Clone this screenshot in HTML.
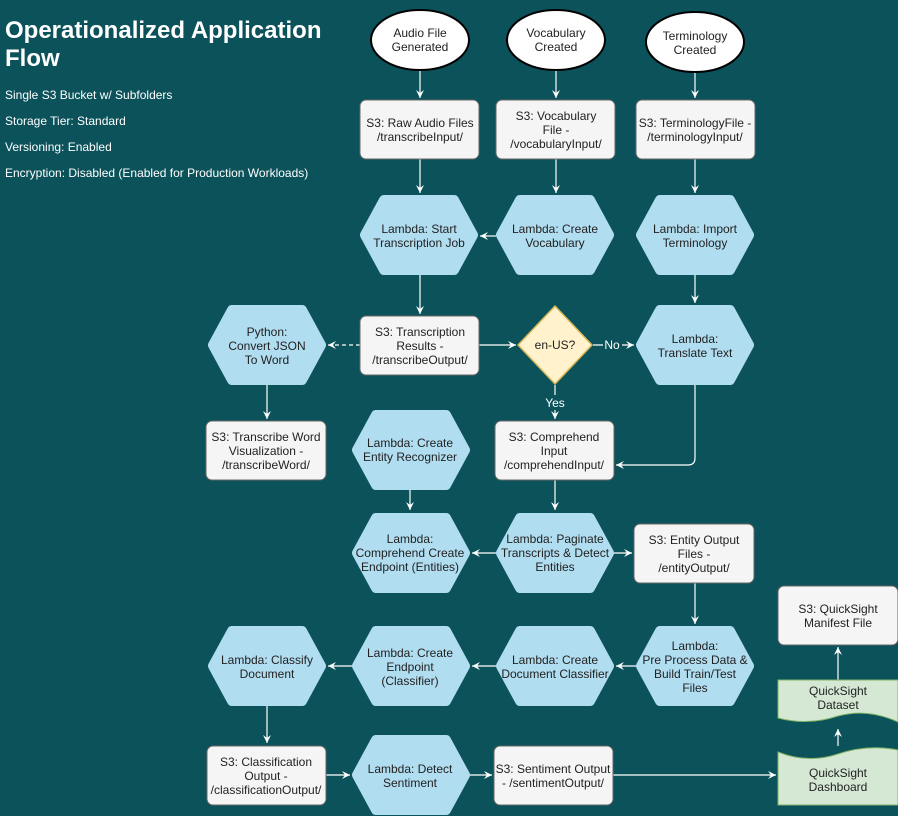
<!DOCTYPE html>
<html><head><meta charset="utf-8"><style>
html,body{margin:0;padding:0;background:#0b525a;}
svg{display:block;font-family:"Liberation Sans",Arial,sans-serif;}
.hx{fill:#b1ddf0;stroke:#b1ddf0;stroke-width:10;stroke-linejoin:round;}
.bx{fill:#f5f5f5;stroke:#666;stroke-width:1;}
.t{font-size:12px;fill:#222;text-anchor:middle;}
.w{fill:#fff;font-size:12px;}
.ln{stroke:#fff;stroke-width:1.2;fill:none;}
</style></head><body>
<svg width="898" height="816" viewBox="0 0 898 816" xmlns="http://www.w3.org/2000/svg">
<defs><marker id="a" markerWidth="10" markerHeight="10" refX="8" refY="5" orient="auto" markerUnits="userSpaceOnUse"><path d="M0,1 L8,5 L0,9 L3,5 Z" fill="#fff"/></marker></defs>
<text x="5" y="38" fill="#fff" font-size="24" font-weight="bold">Operationalized Application</text>
<text x="5" y="66" fill="#fff" font-size="24" font-weight="bold">Flow</text>
<text class="w" x="5" y="99">Single S3 Bucket w/ Subfolders</text>
<text class="w" x="5" y="125">Storage Tier: Standard</text>
<text class="w" x="5" y="151">Versioning: Enabled</text>
<text class="w" x="5" y="177">Encryption: Disabled (Enabled for Production Workloads)</text>

<!-- connectors -->
<g class="ln">
<path d="M420,70 V98" marker-end="url(#a)"/>
<path d="M556,70 V98" marker-end="url(#a)"/>
<path d="M695,72 V98" marker-end="url(#a)"/>
<path d="M420,159 V193" marker-end="url(#a)"/>
<path d="M556,159 V193" marker-end="url(#a)"/>
<path d="M695,159 V193" marker-end="url(#a)"/>
<path d="M496,236 H480" marker-end="url(#a)"/>
<path d="M420,275 V314" marker-end="url(#a)"/>
<path d="M695,275 V303" marker-end="url(#a)"/>
<path d="M360,345 H328" stroke-dasharray="4,3" marker-end="url(#a)"/>
<path d="M479,345 H516" marker-end="url(#a)"/>
<path d="M593,345 H603 M622,345 H634" marker-end="url(#a)"/>
<path d="M555,385 V395 M555,410 V419" marker-end="url(#a)"/>
<path d="M695,385 V458 Q695,465 688,465 H616" marker-end="url(#a)"/>
<path d="M267,385 V419" marker-end="url(#a)"/>
<path d="M410,490 V510" marker-end="url(#a)"/>
<path d="M555,480 V510" marker-end="url(#a)"/>
<path d="M496,553 H472" marker-end="url(#a)"/>
<path d="M614,553 H632" marker-end="url(#a)"/>
<path d="M695,583 V624" marker-end="url(#a)"/>
<path d="M636,666 H616" marker-end="url(#a)"/>
<path d="M496,666 H472" marker-end="url(#a)"/>
<path d="M352,666 H328" marker-end="url(#a)"/>
<path d="M267,706 V743" marker-end="url(#a)"/>
<path d="M326,775 H350" marker-end="url(#a)"/>
<path d="M470,775 H492" marker-end="url(#a)"/>
<path d="M613,775 H776" marker-end="url(#a)"/>
<path d="M838,746 V729" marker-end="url(#a)"/>
<path d="M838,680 V647" marker-end="url(#a)"/>
</g>
<text class="w" x="612" y="349" text-anchor="middle" font-size="11">No</text>
<text class="w" x="555" y="407" text-anchor="middle" font-size="11">Yes</text>

<!-- ellipses -->
<ellipse cx="420" cy="40" rx="49" ry="30" fill="#fff" stroke="#000" stroke-width="2"/>
<text class="t" x="420" y="37">Audio File</text><text class="t" x="420" y="51">Generated</text>
<ellipse cx="556" cy="40" rx="49" ry="30" fill="#fff" stroke="#000" stroke-width="2"/>
<text class="t" x="556" y="37">Vocabulary</text><text class="t" x="556" y="51">Created</text>
<ellipse cx="695" cy="42" rx="49" ry="30" fill="#fff" stroke="#000" stroke-width="2"/>
<text class="t" x="695" y="40">Terminology</text><text class="t" x="695" y="54">Created</text>

<!-- boxes -->
<rect class="bx" x="360" y="100" width="119" height="59" rx="6"/>
<text class="t" x="420" y="127">S3: Raw Audio Files</text><text class="t" x="420" y="141">/transcribeInput/</text>
<rect class="bx" x="496" y="100" width="119" height="59" rx="6"/>
<text class="t" x="556" y="120">S3: Vocabulary</text><text class="t" x="556" y="134">File -</text><text class="t" x="556" y="148">/vocabularyInput/</text>
<rect class="bx" x="636" y="100" width="119" height="59" rx="6"/>
<text class="t" x="695" y="127">S3: TerminologyFile -</text><text class="t" x="695" y="141">/terminologyInput/</text>
<rect class="bx" x="360" y="316" width="119" height="59" rx="6"/>
<text class="t" x="420" y="336">S3: Transcription</text><text class="t" x="420" y="350">Results -</text><text class="t" x="420" y="364">/transcribeOutput/</text>
<rect class="bx" x="206" y="421" width="120" height="59" rx="6"/>
<text class="t" x="266" y="441">S3: Transcribe Word</text><text class="t" x="266" y="455">Visualization -</text><text class="t" x="266" y="469">/transcribeWord/</text>
<rect class="bx" x="495" y="421" width="119" height="59" rx="6"/>
<text class="t" x="554" y="441">S3: Comprehend</text><text class="t" x="554" y="455">Input</text><text class="t" x="554" y="469">/comprehendInput/</text>
<rect class="bx" x="634" y="524" width="120" height="59" rx="6"/>
<text class="t" x="694" y="544">S3: Entity Output</text><text class="t" x="694" y="558">Files -</text><text class="t" x="694" y="572">/entityOutput/</text>
<rect class="bx" x="778" y="586" width="120" height="59" rx="6"/>
<text class="t" x="838" y="613">S3: QuickSight</text><text class="t" x="838" y="627">Manifest File</text>
<rect class="bx" x="207" y="746" width="119" height="59" rx="6"/>
<text class="t" x="266" y="766">S3: Classification</text><text class="t" x="266" y="780">Output -</text><text class="t" x="266" y="794">/classificationOutput/</text>
<rect class="bx" x="494" y="746" width="119" height="59" rx="6"/>
<text class="t" x="553" y="773">S3: Sentiment Output</text><text class="t" x="553" y="787">- /sentimentOutput/</text>

<!-- diamond -->
<path d="M555,306 L592,345 L555,384 L518,345 Z" fill="#fff2cc" stroke="#d6b656" stroke-width="1.5" stroke-linejoin="round"/>
<text class="t" x="555" y="349" font-size="13">en-US?</text>

<!-- quicksight docs -->
<path d="M778,680 H898 V722 Q868,708 838,716 Q808,726 778,718 Z" fill="#d5e8d4" stroke="#82b366"/>
<text class="t" x="838" y="695">QuickSight</text><text class="t" x="838" y="709">Dataset</text>
<path d="M778,752 Q808,764 838,754 Q868,744 898,750 V805 H778 Z" fill="#d5e8d4" stroke="#82b366"/>
<text class="t" x="838" y="777">QuickSight</text><text class="t" x="838" y="791">Dashboard</text>

<!-- hexes -->
<g>
<polygon class="hx" points="384,200 454,200 473,235 454,270 384,270 365,235"/>
<text class="t" x="419" y="233">Lambda: Start</text><text class="t" x="419" y="247">Transcription Job</text>
<polygon class="hx" points="520,200 590,200 609,235 590,270 520,270 501,235"/>
<text class="t" x="555" y="233">Lambda: Create</text><text class="t" x="555" y="247">Vocabulary</text>
<polygon class="hx" points="660,200 730,200 749,235 730,270 660,270 641,235"/>
<text class="t" x="695" y="233">Lambda: Import</text><text class="t" x="695" y="247">Terminology</text>
<polygon class="hx" points="232,310 302,310 321,345 302,380 232,380 213,345"/>
<text class="t" x="267" y="336">Python:</text><text class="t" x="267" y="350">Convert JSON</text><text class="t" x="267" y="364">To Word</text>
<polygon class="hx" points="660,310 730,310 749,345 730,380 660,380 641,345"/>
<text class="t" x="695" y="343">Lambda:</text><text class="t" x="695" y="357">Translate Text</text>
<polygon class="hx" points="376,415 446,415 465,450 446,485 376,485 357,450"/>
<text class="t" x="410" y="447">Lambda: Create</text><text class="t" x="410" y="461">Entity Recognizer</text>
<polygon class="hx" points="376,518 446,518 465,553 446,588 376,588 357,553"/>
<text class="t" x="410" y="543">Lambda:</text><text class="t" x="410" y="557">Comprehend Create</text><text class="t" x="410" y="571">Endpoint (Entities)</text>
<polygon class="hx" points="520,518 590,518 609,553 590,588 520,588 501,553"/>
<text class="t" x="555" y="543">Lambda: Paginate</text><text class="t" x="555" y="557">Transcripts &amp; Detect</text><text class="t" x="555" y="571">Entities</text>
<polygon class="hx" points="232,631 302,631 321,666 302,701 232,701 213,666"/>
<text class="t" x="267" y="664">Lambda: Classify</text><text class="t" x="267" y="678">Document</text>
<polygon class="hx" points="376,631 446,631 465,666 446,701 376,701 357,666"/>
<text class="t" x="410" y="657">Lambda: Create</text><text class="t" x="410" y="671">Endpoint</text><text class="t" x="410" y="685">(Classifier)</text>
<polygon class="hx" points="520,631 590,631 609,666 590,701 520,701 501,666"/>
<text class="t" x="555" y="664">Lambda: Create</text><text class="t" x="555" y="678">Document Classifier</text>
<polygon class="hx" points="660,631 730,631 749,666 730,701 660,701 641,666"/>
<text class="t" x="695" y="650">Lambda:</text><text class="t" x="695" y="664">Pre Process Data &amp;</text><text class="t" x="695" y="678">Build Train/Test</text><text class="t" x="695" y="692">Files</text>
<polygon class="hx" points="376,740 446,740 465,775 446,810 376,810 357,775"/>
<text class="t" x="410" y="773">Lambda: Detect</text><text class="t" x="410" y="787">Sentiment</text>
</g>
</svg>
</body></html>
